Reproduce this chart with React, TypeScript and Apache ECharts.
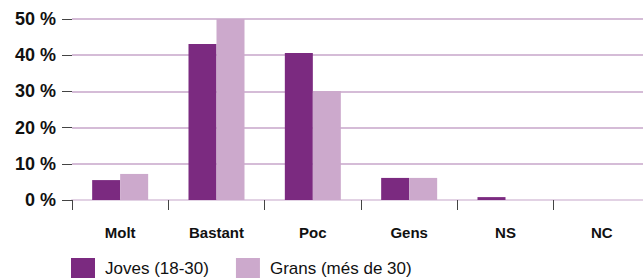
import React, { useEffect, useRef } from "react";
import * as echarts from "echarts";

const categories = ["Molt", "Bastant", "Poc", "Gens", "NS", "NC"];
const joves = [5.5, 43.1, 40.6, 6.1, 0.8, 0];
const grans = [7.2, 50, 30.1, 6.1, 0, 0];
const seriesNames = ["Joves (18-30)", "Grans (més de 30)"];

export default function App() {
  const ref = useRef<HTMLDivElement>(null);
  useEffect(() => {
    document.body.style.margin = "0";
    document.body.style.overflow = "hidden";
    const chart = echarts.init(ref.current!, null, { renderer: "svg" });
    const font = "Liberation Sans, Arial, Helvetica, sans-serif";
    chart.setOption({
      animation: false,
      textStyle: { fontFamily: font },
      grid: { left: 72, right: 0, top: 19, bottom: 78, containLabel: false },
      legend: {
        left: 71,
        top: 258,
        padding: 0,
        itemWidth: 24,
        itemHeight: 20,
        itemGap: 27,
        icon: "rect",
        textStyle: { fontSize: 17, color: "#111", fontFamily: font, padding: [0, 0, 0, 5] },
        data: seriesNames,
      },
      xAxis: {
        type: "category",
        data: categories,
        axisLine: { show: true, lineStyle: { color: "#e2d2e4", width: 2 } },
        axisTick: { show: true, length: 10, alignWithLabel: false, lineStyle: { color: "#444", width: 1 } },
        axisLabel: { margin: 25, fontSize: 15, fontWeight: "bold", color: "#111", fontFamily: font },
      },
      yAxis: {
        type: "value",
        min: 0,
        max: 50,
        interval: 10,
        axisLine: { show: false },
        axisTick: { show: true, length: 10, lineStyle: { color: "#444", width: 1 } },
        splitLine: { show: true, lineStyle: { color: "#d5bcd7", width: 2 } },
        axisLabel: {
          margin: 16,
          fontSize: 18,
          fontWeight: "bold",
          color: "#111",
          fontFamily: font,
          formatter: (v: number) => `${v} %`,
        },
      },
      series: [
        {
          name: seriesNames[0],
          type: "bar",
          data: joves,
          barWidth: 28,
          barGap: "0%",
          itemStyle: { color: "#7b2a80" },
        },
        {
          name: seriesNames[1],
          type: "bar",
          data: grans,
          barWidth: 28,
          barGap: "0%",
          itemStyle: { color: "#cca9cc" },
        },
      ],
    });
    return () => chart.dispose();
  }, []);
  return (
    <div style={{ width: 643, height: 278, overflow: "hidden", position: "relative" }}>
      <div ref={ref} style={{ width: 650, height: 278 }} />
    </div>
  );
}
